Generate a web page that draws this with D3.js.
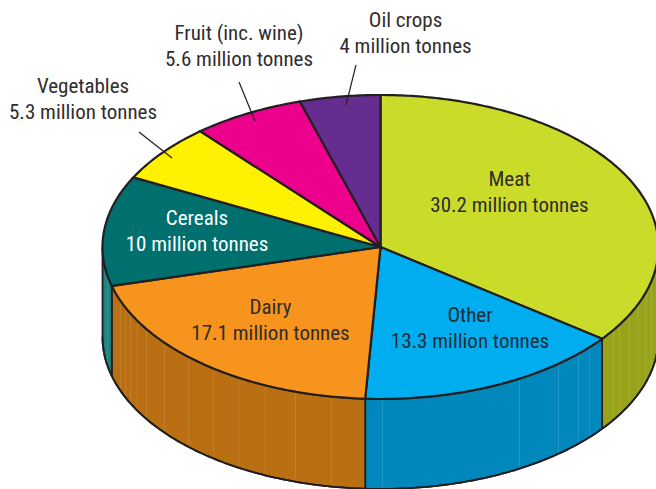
<!DOCTYPE html>
<html><head><meta charset="utf-8">
<script src="https://cdnjs.cloudflare.com/ajax/libs/d3/7.8.5/d3.min.js"></script>
<style>html,body{margin:0;padding:0;background:#fff;overflow:hidden}svg{display:block}
text{font-family:"Liberation Sans Narrow","Roboto Condensed","Liberation Sans",sans-serif;font-size:21px;text-anchor:middle;fill:#2f2d2e}</style>
</head><body><svg id="c" width="656" height="489"></svg>
<script>
const categories=["Meat","Other","Dairy","Cereals","Vegetables","Fruit (inc. wine)","Oil crops"];
const values=[30.2,13.3,17.1,10,5.3,5.6,4];
const valueLabels=["30.2","13.3","17.1","10","5.3","5.6","4"];
const topColors=["#cbdb2a","#00aeef","#f7941d","#00706f","#fff200","#ec008c","#662d91"];
const wallColors=["#98a31a","#0088bc","#b96f12","#1c8482","#fff200","#ec008c","#662d91"];
const seamAngles=[103,107,112,116.4,120.7,123,131.2,134.6,140.2,150,179.6,190.2,197.8,204.4,210.7,216.9,223.7,231,237.3,240.9,244,246.5,249.2,259];

const W=656,H=489,cx=380.5,cy=247,rx=278,ry=152,depth=90;
const rad=d=>d*Math.PI/180;
const px=a=>cx+rx*Math.sin(a), py=a=>cy-ry*Math.cos(a);
const svg=d3.select("#c");
const ink="#231f20";
const arcs=d3.pie().sort(null).value(d=>d)(values);
const line=d3.line().x(d=>d[0]).y(d=>d[1]);
const sample=(a,b)=>{const n=Math.max(2,Math.ceil(Math.abs(b-a)*80));return d3.range(n+1).map(i=>a+(b-a)*i/n);};

// walls
const wlo=rad(90),whi=rad(270);
const walls=svg.append("g");
arcs.forEach((d,i)=>{
  const a=Math.max(d.startAngle,wlo),b=Math.min(d.endAngle,whi);
  if(b<=a)return;
  const ts=sample(a,b);
  const top=ts.map(t=>[px(t),py(t)]);
  const bot=ts.slice().reverse().map(t=>[px(t),py(t)+depth]);
  walls.append("path").attr("d",line(top.concat(bot))+"Z").attr("fill",wallColors[i]).attr("stroke",ink).attr("stroke-width",1.8).attr("stroke-linejoin","round");
});
// seams
walls.selectAll("line.seam").data(seamAngles).join("line").attr("class","seam")
  .attr("x1",d=>px(rad(d))).attr("x2",d=>px(rad(d)))
  .attr("y1",d=>py(rad(d))+2).attr("y2",d=>py(rad(d))+depth-2)
  .attr("stroke","#fff").attr("stroke-opacity",.13).attr("stroke-width",1);
// re-stroke wall bottom over the seams
arcs.forEach(d=>{
  const a=Math.max(d.startAngle,wlo),b=Math.min(d.endAngle,whi);
  if(b<=a)return;
  walls.append("path").attr("d",line(sample(a,b).map(t=>[px(t),py(t)+depth]))).attr("fill","none").attr("stroke",ink).attr("stroke-width",1.8);
});

// top face
svg.append("g").selectAll("path").data(arcs).join("path")
  .attr("d",d=>{
    const pts=sample(d.startAngle,d.endAngle).map(t=>[px(t),py(t)]);
    return line([[cx,cy]].concat(pts))+"Z";
  })
  .attr("fill",(d,i)=>topColors[i]).attr("stroke",ink).attr("stroke-width",2.2).attr("stroke-linejoin","miter");

// leader lines
const leaders=[[139,132,172,158],[239,82,255,121],[356,65,346,105]];
svg.append("g").selectAll("line").data(leaders).join("line")
  .attr("x1",d=>d[0]).attr("y1",d=>d[1]).attr("x2",d=>d[2]).attr("y2",d=>d[3])
  .attr("stroke",ink).attr("stroke-width",1.2);

// labels
const labelPos=[[509.5,186],[470,322],[270.5,314],[197,225],[83,93],[239,40],[405.5,27]];
const labelFill=["#2f2d2e","#1f2c3a","#2f2d2e","#fff","#2f2d2e","#2f2d2e","#2f2d2e"];
const lab=svg.append("g");
categories.forEach((c,i)=>{
  const [x,y]=labelPos[i];
  lab.append("text").attr("x",x).attr("y",y).style("fill",labelFill[i]).text(c);
  lab.append("text").attr("x",x).attr("y",y+25.5).style("fill",labelFill[i]).text(valueLabels[i]+" million tonnes");
});
</script></body></html>
